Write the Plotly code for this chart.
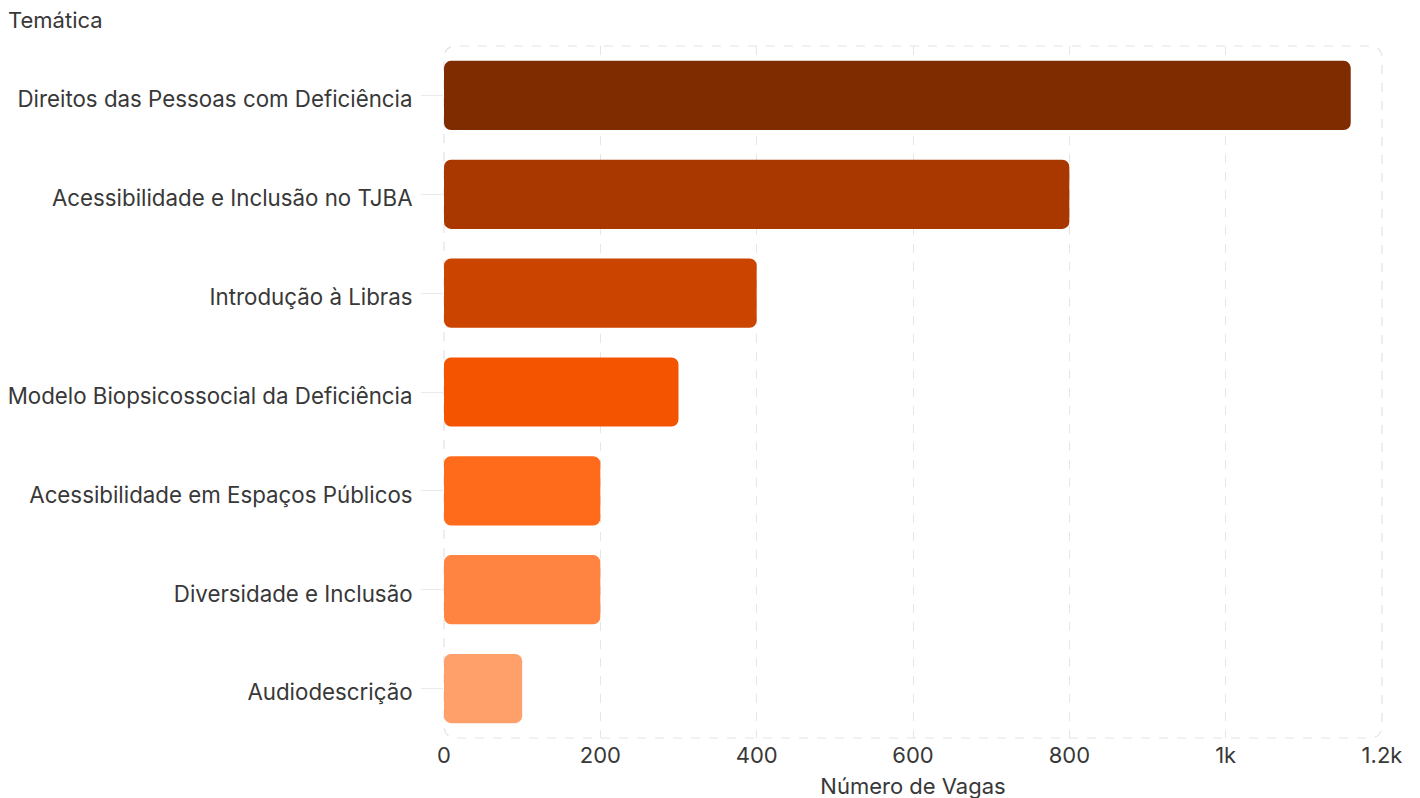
import plotly.graph_objects as go

categories = [
    "Direitos das Pessoas com Deficiência",
    "Acessibilidade e Inclusão no TJBA",
    "Introdução à Libras",
    "Modelo Biopsicossocial da Deficiência",
    "Acessibilidade em Espaços Públicos",
    "Diversidade e Inclusão",
    "Audiodescrição",
]
vagas = [1160, 800, 400, 300, 200, 200, 100]
colors = ["#7F2D00", "#A83800", "#CC4500", "#F45300", "#FF6B1A", "#FF8442", "#FF9F6A"]
x_ticks = [0, 200, 400, 600, 800, 1000, 1200]
x_ticktext = ["0", "200", "400", "600", "800", "1k", "1.2k"]

FONT = "Inter, Roboto, sans-serif"
TXT = "#383838"

fig = go.Figure()
fig.add_trace(go.Bar(
    y=categories, x=vagas, base=[0] * len(vagas),
    orientation="h",
    marker=dict(color=colors, cornerradius=7, line=dict(width=0)),
    hovertemplate="%{y}: %{x}<extra></extra>", showlegend=False,
))

W, H = 1420, 798
ml, mr, mt, mb = 436, 46, 38, 68
pw, ph = W - ml - mr, H - mt - mb
r = 13
rx, ry = r / pw, r / ph
path = (f"M {rx},0 L {1-rx},0 Q 1,0 1,{ry} L 1,{1-ry} Q 1,1 {1-rx},1 "
        f"L {rx},1 Q 0,1 0,{1-ry} L 0,{ry} Q 0,0 {rx},0 Z")
fig.add_shape(type="path", path=path, xref="paper", yref="paper",
              line=dict(color="#e3e3e3", width=1.2, dash="dash"), layer="below")

fig.update_layout(
    width=W, height=H,
    margin=dict(l=ml, r=mr, t=mt, b=mb),
    paper_bgcolor="white", plot_bgcolor="white",
    bargap=0.3,
    font=dict(family=FONT, color=TXT, size=22.3),
    title=dict(text="Temática", x=0, xanchor="left", xref="container",
               y=1 - 12 / H, yanchor="middle", yref="container",
               font=dict(size=22, family=FONT, color=TXT)),
    xaxis=dict(range=[0, 1200], tickvals=x_ticks, ticktext=x_ticktext,
               showgrid=True, gridcolor="#e6e6e6", griddash="dash", gridwidth=1,
               zeroline=False, showline=False, ticks="", ticklabelstandoff=2,
               tickfont=dict(size=22, color=TXT), automargin=False,
               title=dict(text="Número de Vagas", font=dict(size=22, color=TXT), standoff=11)),
    yaxis=dict(autorange="reversed", showgrid=False, zeroline=False, showline=False,
               ticks="outside", ticklen=22, tickcolor="#ebebeb", tickwidth=1,
               tickfont=dict(size=22.3, color=TXT), ticklabelstandoff=4,
               ticklabelshift=-4, automargin=False),
    hovermode="closest",
)

fig.write_html("out.html")
